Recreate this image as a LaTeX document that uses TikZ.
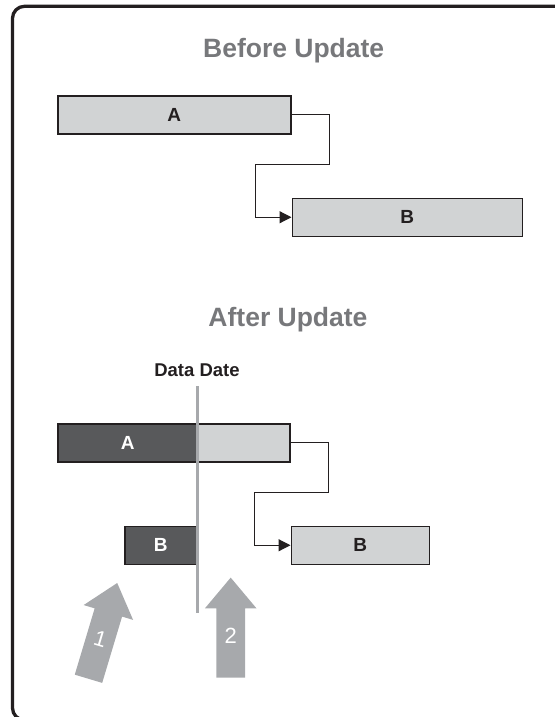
\documentclass[tikz,border=0pt]{standalone}
\usepackage{fontspec}
\setmainfont{Liberation Sans}
\usetikzlibrary{arrows.meta,positioning,shapes.arrows}
\definecolor{barlight}{HTML}{D1D3D4}
\definecolor{bardark}{HTML}{58595B}
\definecolor{edgeblack}{HTML}{231F20}
\definecolor{titlegray}{HTML}{77787B}
\definecolor{markgray}{HTML}{A7A9AC}
\tikzset{
  >={Triangle[length=12pt, width=12pt]},
  heading/.style={font=\fontsize{26.5}{30}\selectfont\bfseries, text=titlegray, anchor=base, inner sep=0pt},
  ddlabel/.style={font=\fontsize{18.5}{22}\selectfont\bfseries, text=edgeblack, anchor=base, inner sep=0pt},
  bar/.style={draw=edgeblack, line width=1.5pt, fill=barlight, minimum height=38pt, inner sep=0pt, font=\fontsize{19}{22}\selectfont\bfseries, text=edgeblack},
  donebar/.style={bar, fill=bardark, text=white},
  link/.style={draw=edgeblack, line width=1.2pt, ->},
  ddline/.style={draw=markgray, line width=3pt},
  bigarrow/.style={single arrow, shape border rotate=90, fill=markgray, minimum height=100pt, minimum width=51pt, single arrow head extend=11.5pt, single arrow tip angle=80, inner xsep=8pt, inner ysep=4pt, text=white, font=\fontsize{22}{24}\selectfont},
  outline/.style={draw=edgeblack, line width=3.3pt, rounded corners=12pt},
}
\begin{document}
\begin{tikzpicture}[x=1pt, y=-1pt, node distance=63pt and 0pt]
  \useasboundingbox (0,0) rectangle (554,717);
  \draw[outline] (12.5,6.3) rectangle (575,720);

  % before update
  \node[heading] (hbefore) at (293.7,57.7) {Before Update};
  \node[bar, minimum width=233pt, anchor=north west] (bA) at (57,95) {A};
  \node[bar, minimum width=230pt, below right=63pt and 0pt of bA] (bB) {B};
  \draw[link] (bA.east) -- ++(38,0) -- ++(0,50) -| ([xshift=-36pt]bB.west) -- (bB.west);

  % after update
  \node[heading] (hafter) at (288,326) {After Update};
  \node[bar, minimum width=232pt, anchor=north west] (aA) at (57,423) {};
  \node[donebar, minimum width=140pt, anchor=north west] (aAd) at (aA.north west) {A};
  \node[bar, minimum width=138pt, below right=63pt and 0pt of aA] (aB) {B};
  \node[donebar, minimum width=72pt, left=93pt of aB] (aBd) {B};
  \draw[link] (aA.east) -- ++(38,0) -- ++(0,50) -| ([xshift=-36pt]aB.west) -- (aB.west);

  \node[ddlabel] (dd) at (197,376) {Data Date};
  \coordinate (ddtop) at (197,386);
  \coordinate (ddbot) at (197,613);
  \draw[ddline] (ddtop) -- (ddbot);

  \node[bigarrow, anchor=tip, rotate=-16.7] (up1) at (117.3,582.7) {1};
  \node[bigarrow, anchor=tip] (up2) at (230.7,577.3) {2};
\end{tikzpicture}
\end{document}
